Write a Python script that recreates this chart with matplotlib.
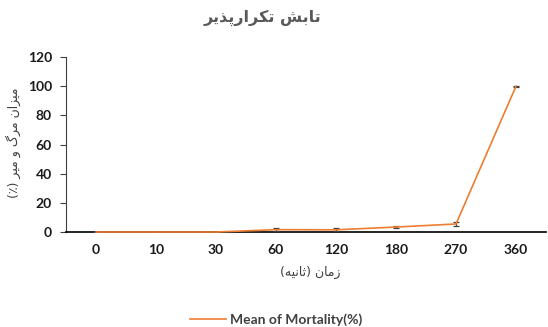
import matplotlib.pyplot as plt
from matplotlib.lines import Line2D
import numpy as np

# Persian glyph forms: isolated, final, initial, medial (None = joins only to the right)
FORMS = {
    'ا': ('\uFE8D', '\uFE8E', None, None),
    'ب': ('\uFE8F', '\uFE90', '\uFE91', '\uFE92'),
    'ت': ('\uFE95', '\uFE96', '\uFE97', '\uFE98'),
    'ث': ('\uFE99', '\uFE9A', '\uFE9B', '\uFE9C'),
    'ذ': ('\uFEAB', '\uFEAC', None, None),
    'ر': ('\uFEAD', '\uFEAE', None, None),
    'ز': ('\uFEAF', '\uFEB0', None, None),
    'ش': ('\uFEB5', '\uFEB6', '\uFEB7', '\uFEB8'),
    'م': ('\uFEE1', '\uFEE2', '\uFEE3', '\uFEE4'),
    'ن': ('\uFEE5', '\uFEE6', '\uFEE7', '\uFEE8'),
    'ه': ('\uFEE9', '\uFEEA', '\uFEEB', '\uFEEC'),
    'و': ('\uFEED', '\uFEEE', None, None),
    'پ': ('\uFB56', '\uFB57', '\uFB58', '\uFB59'),
    'ک': ('\uFB8E', '\uFB8F', '\uFB90', '\uFB91'),
    'گ': ('\uFB92', '\uFB93', '\uFB94', '\uFB95'),
    'ی': ('\uFBFC', '\uFBFD', '\uFBFE', '\uFBFF'),
}


def farsi(text):
    out = []
    for i, ch in enumerate(text):
        if ch not in FORMS:
            out.append(ch)
            continue
        prev = text[i - 1] if i > 0 else ''
        nxt = text[i + 1] if i + 1 < len(text) else ''
        join_prev = prev in FORMS and FORMS[prev][2] is not None
        join_next = nxt in FORMS and FORMS[ch][2] is not None
        iso, fin, ini, med = FORMS[ch]
        if join_prev and join_next:
            out.append(med)
        elif join_prev:
            out.append(fin)
        elif join_next:
            out.append(ini)
        else:
            out.append(iso)
    s = ''.join(reversed(out))
    return s.translate(str.maketrans('()', ')('))


times = ['0', '10', '30', '60', '120', '180', '270', '360']
mortality = [0, 0, 0, 1.6, 1.5, 3.4, 5.5, 100]
errors = [0, 0, 0, 1.0, 1.0, 0.5, 1.5, 0.3]

title = 'تابش تکرارپذیر'
xlabel = 'زمان (ثانیه)'
ylabel = 'میزان مرگ و میر (٪)'
series_name = 'Mean of Mortality(%)'

fig = plt.figure(figsize=(5.48, 3.27), dpi=100)
ax = fig.add_axes([66 / 548, 1 - 232 / 327, 480 / 548, 175 / 327])

x = np.arange(len(times))
line, caps, bars = ax.errorbar(x, mortality, yerr=errors, color='#ED7D31', lw=1.2,
                               ecolor='#404040', elinewidth=0.9, capsize=2.5,
                               capthick=0.9, zorder=4)
line.set_clip_on(False)

ax.set_xlim(-0.5, len(times) - 0.5)
ax.set_ylim(0, 120)
ax.set_yticks(np.arange(0, 121, 20))
ax.set_xticks(x)
ax.set_xticklabels(times)

for spine in ['top', 'right']:
    ax.spines[spine].set_visible(False)
ax.spines['bottom'].set_color('black')
ax.spines['bottom'].set_linewidth(1.2)
ax.spines['left'].set_color('#404040')
ax.spines['left'].set_linewidth(0.8)
ax.tick_params(axis='x', length=0, pad=9)
ax.tick_params(axis='y', length=4, width=0.8, color='#404040', pad=6)
for lab in ax.get_xticklabels() + ax.get_yticklabels():
    lab.set_fontfamily('Lato')
    lab.set_fontweight('bold')
    lab.set_fontsize(10)
    lab.set_color('#1a1a1a')

fig.text(262 / 548, 1 - 18 / 327, farsi(title), ha='center', va='center',
         fontsize=11.5, fontweight='bold', color='#595959', family='DejaVu Sans')
fig.text(310 / 548, 1 - 272 / 327, farsi(xlabel), ha='center', va='center',
         fontsize=9, color='#404040', family='DejaVu Sans')
fig.text(13 / 548, 1 - 143 / 327, farsi(ylabel), ha='center', va='center',
         rotation=90, fontsize=9, color='#404040', family='DejaVu Sans')

handle = Line2D([], [], color='#ED7D31', lw=1.2)
leg = fig.legend([handle], [series_name], loc='center',
                 bbox_to_anchor=(276 / 548, 1 - 320 / 327),
                 frameon=False, handlelength=2.6, handletextpad=0.3,
                 prop={'family': 'Lato', 'weight': 'bold', 'size': 10})
for t in leg.get_texts():
    t.set_color('#404040')

fig.savefig('out.png', dpi=100)
